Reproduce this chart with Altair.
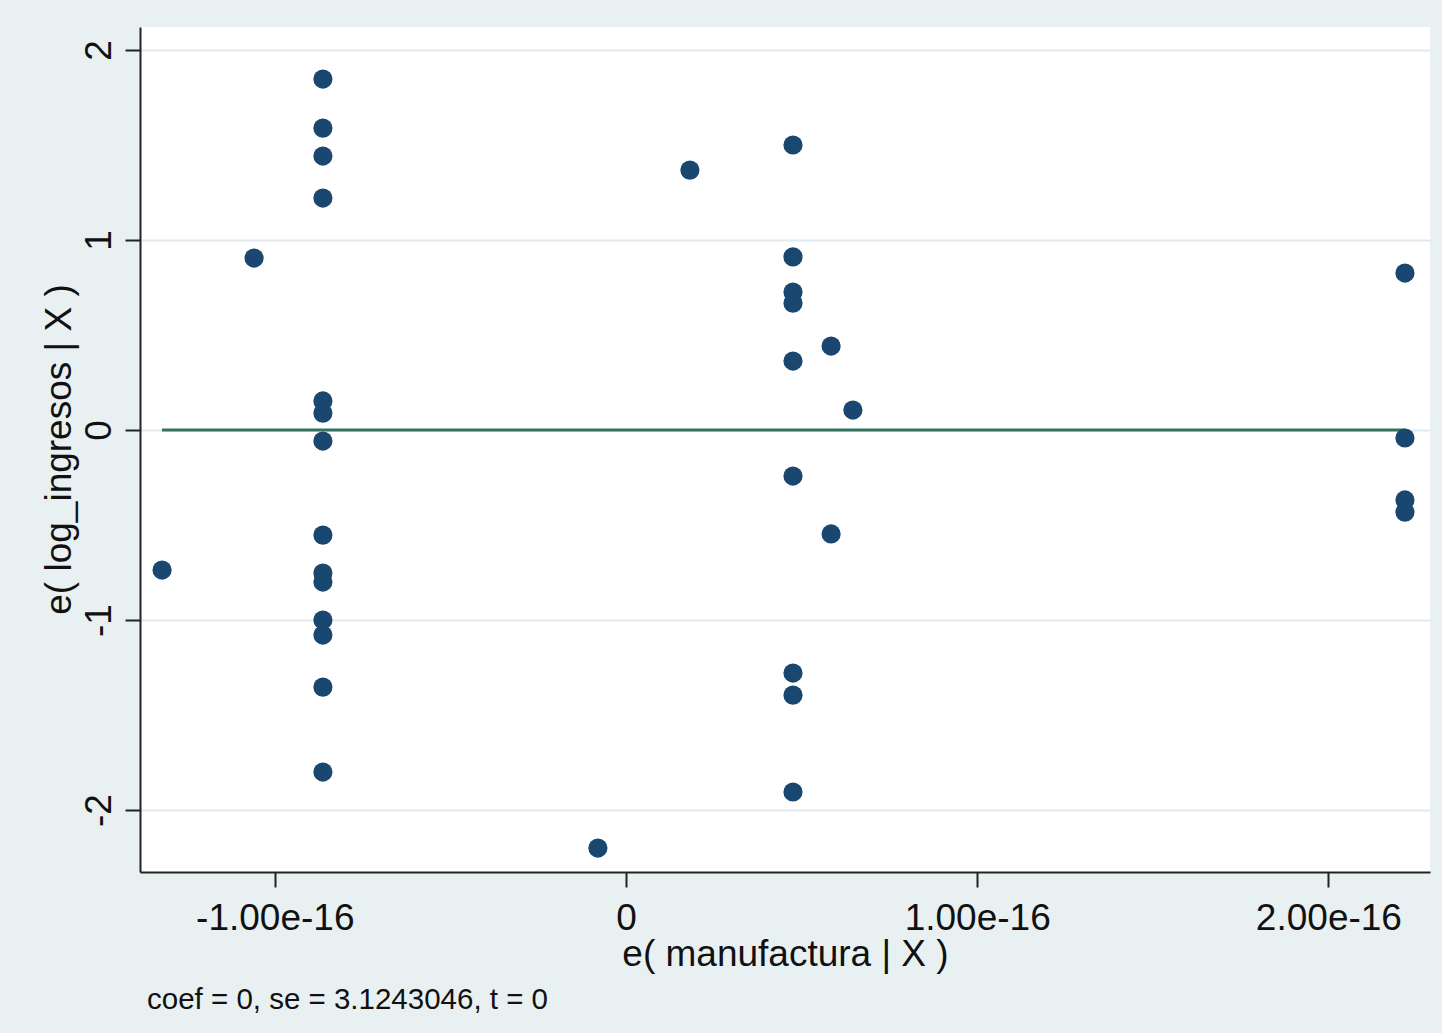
import altair as alt
import pandas as pd

# Added-variable plot: residuals of log_ingresos vs residuals of manufactura
resid_x = [
    # column near -0.86e-16
    -0.863e-16, -0.863e-16, -0.863e-16, -0.863e-16, -0.863e-16, -0.863e-16, -0.863e-16,
    -0.863e-16, -0.863e-16, -0.863e-16, -0.863e-16, -0.863e-16, -0.863e-16, -0.863e-16,
    # scattered points
    -1.321e-16, -1.059e-16, -0.080e-16, 0.182e-16, 0.584e-16, 0.584e-16, 0.646e-16,
    # column near 0.48e-16
    0.4755e-16, 0.4755e-16, 0.4755e-16, 0.4755e-16, 0.4755e-16, 0.4755e-16, 0.4755e-16,
    0.4755e-16, 0.4755e-16,
    # column near 2.22e-16
    2.218e-16, 2.218e-16, 2.218e-16, 2.218e-16,
]
resid_y = [
    1.847, 1.589, 1.442, 1.221, 0.153, 0.089, -0.058,
    -0.553, -0.753, -0.800, -1.000, -1.079, -1.353, -1.800,
    -0.737, 0.905, -2.200, 1.368, 0.442, -0.547, 0.105,
    1.500, 0.911, 0.726, 0.668, 0.363, -0.242, -1.279,
    -1.395, -1.905,
    0.826, -0.042, -0.368, -0.432,
]

# Regression summary shown under the plot
coef = 0
se = 3.1243046
t_stat = 0

x_ticks = [-1e-16, 0, 1e-16, 2e-16]
y_ticks = [-2, -1, 0, 1, 2]
x_domain = [-1.3838e-16, 2.2893e-16]
y_domain = [-2.326, 2.121]

x_title = "e( manufactura | X )"
y_title = "e( log_ingresos | X )"
note = f"coef = {coef:g}, se = {se}, t = {t_stat:g}"

points = pd.DataFrame({"x": resid_x, "y": resid_y})
x_fit = [min(resid_x), max(resid_x)]
fit = pd.DataFrame({"x": x_fit, "y": [coef * v for v in x_fit]})

FONT = "Liberation Sans"
INK = "#111111"
BG = "#e9f0f2"

x_scale = alt.Scale(domain=x_domain, nice=False, zero=False)
y_scale = alt.Scale(domain=y_domain, nice=False, zero=False)

x_axis = alt.Axis(
    values=x_ticks,
    labelExpr="datum.value == 0 ? '0' : (datum.value < 0 ? '-' : '') + format(abs(datum.value) * 1e16, '.2f') + 'e-16'",
    grid=False,
    title=x_title,
    titleX=645,
    titleY=93,
    titleAlign="center",
    titleBaseline="alphabetic",
    labelPadding=13,
)
y_axis = alt.Axis(
    values=y_ticks,
    labelExpr="(datum.value < 0 ? '-' : '') + abs(datum.value)",
    labelAngle=270,
    labelAlign="center",
    labelBaseline="middle",
    labelPadding=26,
    grid=True,
    title=y_title,
    titleAngle=270,
    titleX=-70,
    titleY=422,
    titleAlign="center",
    titleBaseline="alphabetic",
)

scatter = alt.Chart(points).mark_circle(size=370, opacity=1, color="#1a476f").encode(
    x=alt.X("x:Q", scale=x_scale, axis=x_axis),
    y=alt.Y("y:Q", scale=y_scale, axis=y_axis),
)

fit_line = alt.Chart(fit).mark_line(color="#35735f", strokeWidth=3).encode(
    x=alt.X("x:Q", scale=x_scale),
    y=alt.Y("y:Q", scale=y_scale),
)

note_text = alt.Chart(pd.DataFrame({"label": [note]})).mark_text(
    align="left", baseline="middle", font=FONT, fontSize=29.5, color=INK
).encode(
    text="label:N",
    x=alt.value(7),
    y=alt.value(973),
)

chart = (
    alt.layer(fit_line, scatter, note_text)
    .properties(
        width=1290,
        height=845,
        autosize=alt.AutoSizeParams(type="none"),
        padding={"left": 140, "top": 27, "right": 12, "bottom": 161},
        background=BG,
    )
    .configure_view(fill="white", stroke=None)
    .configure_axis(
        labelFont=FONT,
        titleFont=FONT,
        labelFontSize=37,
        titleFontSize=37,
        labelColor=INK,
        titleColor=INK,
        titleFontWeight="normal",
        domainColor="#222222",
        domainWidth=2,
        tickColor="#222222",
        tickWidth=2,
        tickSize=15,
        gridColor="#e3eaed",
        gridWidth=2,
    )
)

chart.save("out.html", embed_options={"renderer": "svg", "actions": False})
